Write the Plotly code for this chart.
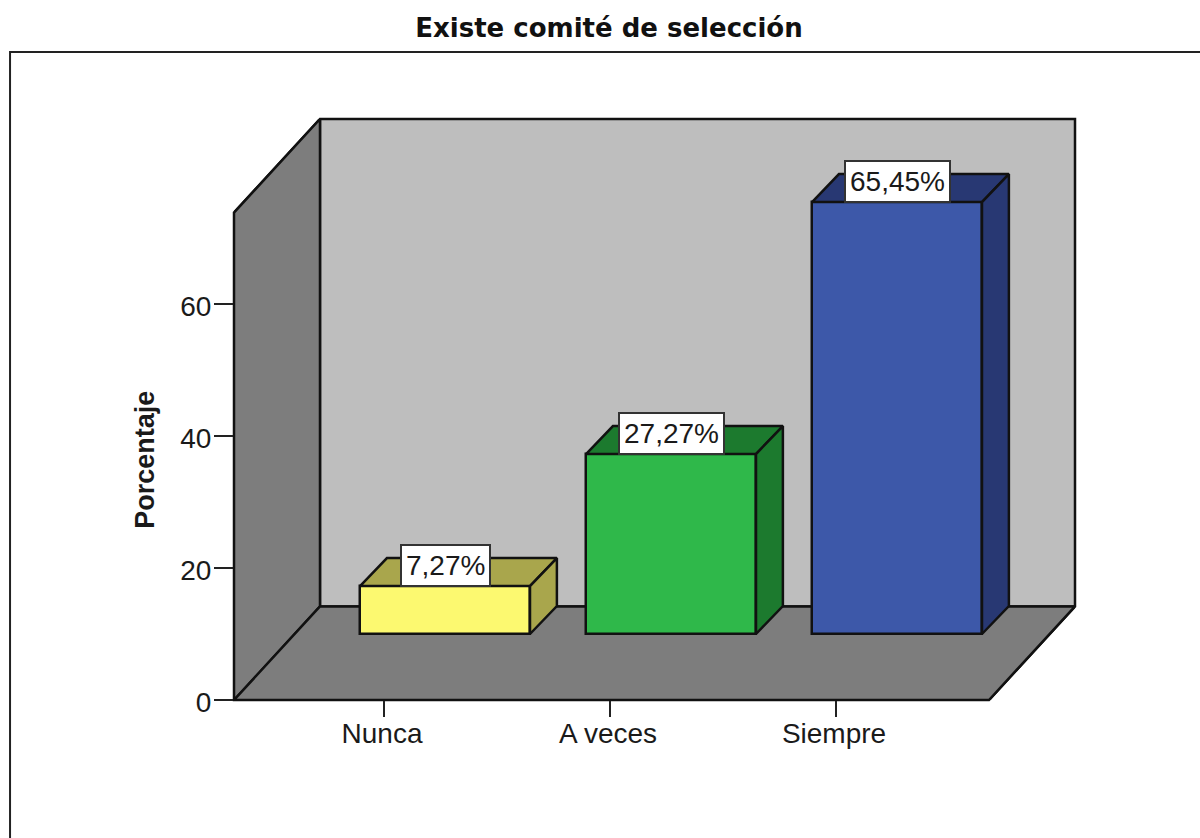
import plotly.graph_objects as go

# Data
categories = ["Nunca", "A veces", "Siempre"]
values = [7.27, 27.27, 65.45]
labels = ["7,27%", "27,27%", "65,45%"]
y_ticks = [0, 20, 40, 60]
face_colors = ["#FCF970", "#2FB84A", "#3D58A9"]
side_colors = ["#A9A64C", "#1C7A2E", "#283873"]
title_text = "Existe comité de selección"
y_title = "Porcentaje"

# Geometry of the pseudo-3D box, in axis units
X0, X1 = -0.6637, 2.677          # front floor edge
WALL_DX, WALL_DY = 0.3805, 14.18  # box depth
Y_TOP = 73.85                    # front top of left wall
BAR_BASE = 10.0                  # bars stand mid-floor
BAR_SHIFT, BAR_W = 0.27, 0.752
BAR_DX, BAR_DY = 0.119, 4.24

XMAX, YMAX = X1 + WALL_DX, Y_TOP + WALL_DY
LINE = dict(color="#111111", width=2.5)
FONT = "Liberation Sans"
TEXT = "#1a1a1a"


def path(pts):
    return "M " + " L ".join(f"{x} {y}" for x, y in pts) + " Z"


def frac(pts):
    return [((x - X0) / (XMAX - X0), y / YMAX) for x, y in pts]


fig = go.Figure()

# Walls and floor
shapes = [
    dict(type="path", layer="below", xref="x", yref="y", fillcolor="#BEBEBE", line=LINE,
         path=path([(X0 + WALL_DX, WALL_DY), (X0 + WALL_DX, YMAX), (XMAX, YMAX), (XMAX, WALL_DY)])),
    dict(type="path", layer="below", xref="x", yref="y", fillcolor="#7D7D7D", line=LINE,
         path=path([(X0, 0), (X0, Y_TOP), (X0 + WALL_DX, YMAX), (X0 + WALL_DX, WALL_DY)])),
    dict(type="path", layer="below", xref="x", yref="y", fillcolor="#7D7D7D", line=LINE,
         path=path([(X0, 0), (X0 + WALL_DX, WALL_DY), (XMAX, WALL_DY), (X1, 0)])),
    # outer outline of the box, unclipped at the plot edge
    dict(type="path", layer="below", xref="paper", yref="paper", line=LINE,
         path=path(frac([(X0, 0), (X0, Y_TOP), (X0 + WALL_DX, YMAX), (XMAX, YMAX),
                         (XMAX, WALL_DY), (X1, 0)]))),
    # outer picture frame, open past the page edges
    dict(type="path", xref="paper", yref="paper", line=dict(color="#222222", width=2),
         path="M -0.2663 -0.4 L -0.2663 1.1153 L 1.2 1.1153"),
]

# Bars: front face through the bar trace
fig.add_trace(go.Bar(
    x=[i + BAR_SHIFT for i in range(len(categories))], y=values, base=BAR_BASE, width=BAR_W,
    marker=dict(color=face_colors, line=LINE), showlegend=False, hoverinfo="skip"))

# Bars: top and side faces
for i, v in enumerate(values):
    left = i + BAR_SHIFT - BAR_W / 2
    right = i + BAR_SHIFT + BAR_W / 2
    top = BAR_BASE + v
    top_xs = [left, left + BAR_DX, right + BAR_DX, right, left]
    top_ys = [top, top + BAR_DY, top + BAR_DY, top, top]
    side_xs = [right, right + BAR_DX, right + BAR_DX, right, right]
    side_ys = [BAR_BASE, BAR_BASE + BAR_DY, top + BAR_DY, top, BAR_BASE]
    for xs, ys in ((top_xs, top_ys), (side_xs, side_ys)):
        fig.add_trace(go.Scatter(x=xs, y=ys, mode="lines", fill="toself", fillcolor=side_colors[i],
                                 line=LINE, showlegend=False, hoverinfo="skip"))

# Value labels and rotated axis title
annotations = [
    dict(x=i + BAR_SHIFT, y=BAR_BASE + v, xref="x", yref="y", text=labels[i], showarrow=False,
         xanchor="center", yanchor="bottom", bgcolor="white", bordercolor="#333333", borderwidth=2,
         borderpad=4, yshift=-1, font=dict(family=FONT, size=28, color=TEXT))
    for i, v in enumerate(values)
]
annotations.append(dict(
    x=-0.1058, y=36.4, xref="paper", yref="y", text=f"<b>{y_title}</b>", textangle=-90, showarrow=False,
    xanchor="center", yanchor="middle", font=dict(family=FONT, size=27, color=TEXT)))

fig.update_layout(
    width=1200, height=838,
    autosize=False,
    margin=dict(l=234, r=125, t=119, b=138, pad=0),
    paper_bgcolor="white", plot_bgcolor="white",
    bargap=0, showlegend=False,
    shapes=shapes, annotations=annotations,
    title=dict(text=f"<b>{title_text}</b>", x=609 / 1200, xanchor="center", xref="container",
               y=1 - 28 / 838, yanchor="middle", yref="container",
               font=dict(family="DejaVu Sans", size=26, color="#111111")),
    xaxis=dict(range=[X0, XMAX], tickmode="array", tickvals=list(range(len(categories))),
               ticktext=categories, ticks="outside", ticklen=16, tickwidth=2, tickcolor="#222222",
               showgrid=False, zeroline=False, showline=False, ticklabelstandoff=-8, ticklabelshift=-2,
               tickfont=dict(family=FONT, size=28, color=TEXT)),
    yaxis=dict(range=[0, YMAX], tickmode="array", tickvals=y_ticks, ticks="outside", ticklen=19,
               tickwidth=2, tickcolor="#222222", showgrid=False, zeroline=False, showline=False,
               ticklabelstandoff=-3, ticklabelshift=2, tickfont=dict(family=FONT, size=28, color=TEXT)),
)

# Let the figure start at the page corner
fig.write_html("out.html", config={"displayModeBar": False},
               post_script="document.body.style.margin='0';")
